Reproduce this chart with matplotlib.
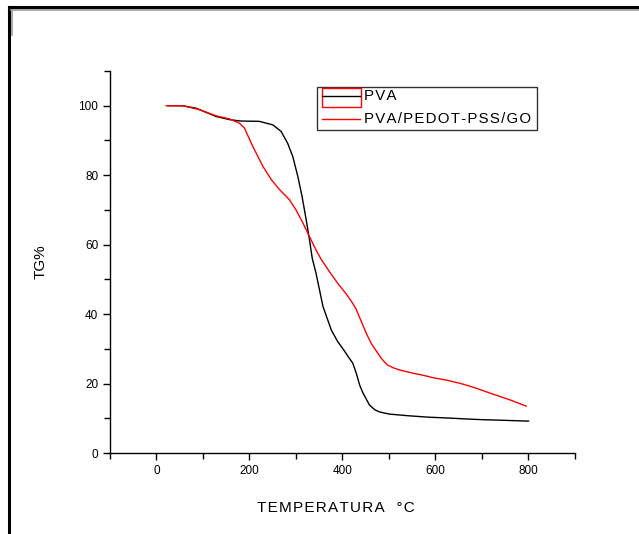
import matplotlib
matplotlib.use("Agg")
import matplotlib.pyplot as plt
from matplotlib.lines import Line2D
from matplotlib.patches import Rectangle
from matplotlib.ticker import MultipleLocator

plt.rcParams['font.family'] = ['Liberation Sans', 'DejaVu Sans']

# curvas TG (temperatura en °C, masa en %)
temp_pva = [25, 56, 85, 128, 157, 180, 221, 250, 268, 282, 293, 304, 313, 322, 329, 335,
            343, 358, 376, 390, 401, 412, 422, 430, 437, 444, 458, 470, 480, 501, 544, 587,
            623, 666, 700, 750, 795, 800]
tg_pva = [100, 100, 99.3, 96.9, 96.0, 95.6, 95.5, 94.5, 92.6, 89.2, 85.4, 79.6, 73.9, 67.1, 61.4, 56,
          51.8, 42.2, 35.4, 32, 30, 27.8, 25.9, 22.8, 19.5, 17.3, 13.8, 12.4, 11.8, 11.2, 10.7, 10.3,
          10.1, 9.8, 9.6, 9.4, 9.2, 9.2]

temp_go = [21, 56, 92, 128, 157, 178, 189, 207, 229, 247, 265, 286, 300, 315, 329, 343,
           354, 372, 390, 408, 420, 429, 440, 451, 462, 472, 485, 497, 510, 523, 551,
           573, 594, 623, 652, 680, 716, 760, 795]
tg_go = [100, 100, 98.9, 97.1, 96.2, 95, 93.6, 88.3, 82.5, 78.7, 75.8, 72.9, 70, 66.2, 62.3, 58.5,
         55.8, 52.2, 48.8, 45.8, 43.5, 41.5, 38, 34.5, 31.5, 29.5, 27, 25.3, 24.5, 23.9, 23,
         22.4, 21.7, 21, 20.1, 19, 17.3, 15.3, 13.5]

series_names = ['PVA', 'PVA/PEDOT-PSS/GO']
series_colors = ['black', '#ff0000']

HS = '\u200a'


def espaciado(s):
    return HS.join(s)


fig = plt.figure(figsize=(6.39, 5.34), dpi=100)
ax = fig.add_axes([110/639, 1-453/534, 465/639, 382/534])

ax.plot(temp_pva, tg_pva, color=series_colors[0], lw=1.0)
ax.plot(temp_go, tg_go, color=series_colors[1], lw=1.0)

ax.set_xlim(-100, 900)
ax.set_ylim(0, 110)
ax.set_xticks([0, 200, 400, 600, 800])
ax.xaxis.set_minor_locator(MultipleLocator(100))
ax.set_yticks([0, 20, 40, 60, 80, 100])
ax.yaxis.set_minor_locator(MultipleLocator(10))
ax.tick_params(which='both', direction='out', width=1.0, labelsize=8.5)
ax.tick_params(which='major', length=5)
ax.tick_params(which='minor', length=4)
ax.spines['top'].set_visible(False)
ax.spines['right'].set_visible(False)
for s in ['left', 'bottom']:
    ax.spines[s].set_linewidth(1.0)

ax.set_xlabel(espaciado('TEMPERATURA') + '   ' + espaciado('°C'), fontsize=11, labelpad=17)
ax.xaxis.set_label_coords(0.486, -0.125)
ax.set_ylabel('TG%', fontsize=11, labelpad=22)

# leyenda dibujada a mano
W, H = 639, 534
fig.add_artist(Rectangle((317/W, 1-130/H), 220/W, 43/H, fill=False,
                         edgecolor='#333333', lw=1.0, transform=fig.transFigure))
for i, (nombre, color) in enumerate(zip(series_names, series_colors)):
    yy = 1 - (96.5 + 23*i)/H
    fig.add_artist(Line2D([322/W, 360/W], [yy, yy], color=color, lw=1.0))
    fig.text(364/W, yy, espaciado(nombre), fontsize=10.8, va='center', ha='left')
fig.add_artist(Rectangle((322/W, 1-107/H), 39/W, 19/H, fill=False,
                         edgecolor='#ff0000', lw=1.0, transform=fig.transFigure))

# marco de la ventana
fig.add_artist(Line2D([9/W, 1], [1-7/H, 1-7/H], color='black', lw=2.2))
fig.add_artist(Line2D([9/W, 9/W], [1-7/H, 0], color='black', lw=2.2))
fig.add_artist(Line2D([11/W, 1], [1-10/H, 1-10/H], color='#999999', lw=1.2))
fig.add_artist(Line2D([11.5/W, 11.5/W], [1-10/H, 1-35/H], color='#999999', lw=1.2))

fig.savefig('out.png', dpi=100)
